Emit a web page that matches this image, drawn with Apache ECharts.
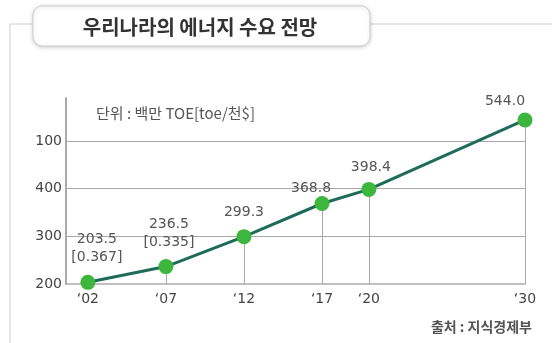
<!DOCTYPE html>
<html>
<head>
<meta charset="utf-8">
<script src="https://cdn.jsdelivr.net/npm/echarts@6/dist/echarts.min.js"></script>
<style>
  html, body { margin: 0; padding: 0; background: #fff; }
  #chart { width: 552px; height: 343px; }
</style>
</head>
<body>
<div id="chart"></div>
<script>
// Energy demand outlook (million TOE) with energy intensity in brackets
var years = [2002, 2007, 2012, 2017, 2020, 2030];
var yearLabels = ["‘02", "‘07", "‘12", "‘17", "‘20", "‘30"];
var demand = [203.5, 236.5, 299.3, 368.8, 398.4, 544.0];
var intensity = ["0.367", "0.335", null, null, null, null];
var yTicks = [200, 300, 400, 500];
var yTickLabels = ["200", "300", "400", "100"];

var titleText = "우리나라의 에너지 수요 전망";
var unitText = "단위 : 백만 TOE[toe/천$]";
var sourceText = "출처 : 지식경제부";

// label placement tweaks per point: [dx, distance]
var labelPlace = [[9, 8], [3, 8], [0, 8], [-11, -1], [2, 6], [-20, 2]];

var numFont = "DejaVu Sans, Noto Sans CJK KR, sans-serif";
var krFont = "Noto Sans CJK KR, sans-serif";

var seriesData = years.map(function (y, i) {
  var txt = demand[i].toFixed(1) + (intensity[i] ? "\n[" + intensity[i] + "]" : "");
  return {
    value: [y, demand[i]],
    label: {
      formatter: txt,
      offset: [labelPlace[i][0], 0],
      distance: labelPlace[i][1]
    }
  };
});

var dropLines = years.map(function (y, i) {
  return [{ coord: [y, yTicks[0]] }, { coord: [y, demand[i]] }];
});
var gridLines = yTicks.slice(1).map(function (v) { return { yAxis: v }; });

var chart = echarts.init(document.getElementById('chart'), null, { renderer: 'canvas' });
chart.setOption({
  animation: false,
  backgroundColor: '#fff',
  graphic: [
    { type: 'line', shape: { x1: 10, y1: 24, x2: 552, y2: 24 }, style: { stroke: '#cfcfcf', lineWidth: 1 }, z: 0 },
    { type: 'line', shape: { x1: 10, y1: 24, x2: 10, y2: 343 }, style: { stroke: '#cfcfcf', lineWidth: 1 }, z: 0 },
    { type: 'rect', shape: { x: 33, y: 6, width: 337, height: 40, r: 9 },
      style: { fill: '#fff', stroke: '#cccccc', lineWidth: 1, shadowBlur: 4, shadowColor: 'rgba(0,0,0,0.18)', shadowOffsetY: 1 }, z: 1 },
    { type: 'text', x: 200, y: 27, z: 2,
      style: { text: titleText, fill: '#333', font: 'bold 20px ' + krFont, textAlign: 'center', textVerticalAlign: 'middle' } },
    { type: 'text', x: 96, y: 113, z: 2,
      style: { text: unitText, fill: '#555', font: '15px ' + krFont, textAlign: 'left', textVerticalAlign: 'middle' } },
    { type: 'text', x: 532, y: 327, z: 2,
      style: { text: sourceText, fill: '#555', font: 'bold 14px ' + krFont, textAlign: 'right', textVerticalAlign: 'middle' } }
  ],
  grid: { left: 66, right: 27, top: 98, bottom: 59 },
  xAxis: {
    type: 'value',
    min: 2000.6,
    max: 2030,
    splitLine: { show: false },
    axisLine: { show: true, onZero: false, lineStyle: { color: '#aaa', width: 1.5 } },
    axisTick: { show: false },
    axisLabel: {
      customValues: years,
      formatter: function (v) { var i = years.indexOf(v); return i >= 0 ? yearLabels[i] : ''; },
      color: '#444', fontSize: 14, fontFamily: numFont, margin: 8
    }
  },
  yAxis: {
    type: 'value',
    min: 200,
    max: 590,
    splitLine: { show: false },
    axisLine: { show: true, lineStyle: { color: '#aaa', width: 2 } },
    axisTick: { show: false },
    axisLabel: {
      customValues: yTicks,
      formatter: function (v) { var i = yTicks.indexOf(v); return i >= 0 ? yTickLabels[i] : ''; },
      color: '#444', fontSize: 14, fontFamily: numFont, margin: 4
    }
  },
  series: [{
    type: 'line',
    data: seriesData,
    clip: false,
    symbol: 'circle',
    symbolSize: 15,
    z: 5,
    lineStyle: { color: '#1f6b5a', width: 3 },
    itemStyle: { color: '#3cb63c', borderWidth: 0 },
    label: {
      show: true, position: 'top', color: '#555', fontSize: 14, fontFamily: numFont, lineHeight: 18, align: 'center'
    },
    markLine: {
      silent: true,
      symbol: 'none',
      animation: false,
      z: 1,
      label: { show: false },
      lineStyle: { color: '#a8a8a8', width: 1, type: 'solid' },
      emphasis: { disabled: true },
      data: dropLines.concat(gridLines)
    }
  }]
});
</script>
</body>
</html>
